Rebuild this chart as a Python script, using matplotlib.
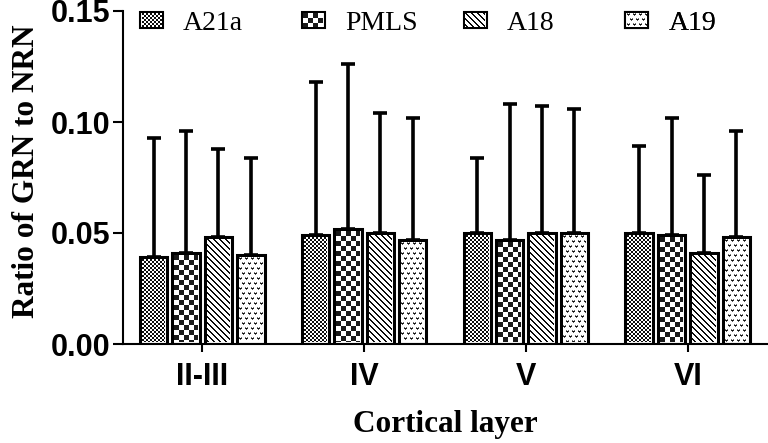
import numpy as np
import matplotlib
matplotlib.use('Agg')
import matplotlib.pyplot as plt
from matplotlib.patches import Patch
from matplotlib.transforms import blended_transform_factory

# ---------------- data ----------------
layers = ['II-III', 'IV', 'V', 'VI']
areas = ['A21a', 'PMLS', 'A18', 'A19']

a21a_mean = [0.039, 0.049, 0.050, 0.050]
a21a_sd = [0.054, 0.069, 0.034, 0.039]
pmls_mean = [0.041, 0.052, 0.047, 0.049]
pmls_sd = [0.055, 0.074, 0.061, 0.053]
a18_mean = [0.048, 0.050, 0.050, 0.041]
a18_sd = [0.040, 0.054, 0.057, 0.035]
a19_mean = [0.040, 0.047, 0.050, 0.048]
a19_sd = [0.044, 0.055, 0.056, 0.048]

y_ticks = [0.00, 0.05, 0.10, 0.15]

means = [a21a_mean, pmls_mean, a18_mean, a19_mean]
sds = [a21a_sd, pmls_sd, a18_sd, a19_sd]


# ---------------- fill patterns (pixel arrays, 0=black 1=white) ----------------
def pat_fine_checker(h, w):
    i, j = np.indices((h, w))
    return np.where(((i // 2) + (j // 2)) % 2 == 0, 0.05, 1.0)


def pat_coarse_checker(h, w):
    i, j = np.indices((h, w))
    return np.where(((i // 5) + (j // 5)) % 2 == 0, 0.1, 1.0)


def pat_diag(h, w):
    i, j = np.indices((h, w))
    return np.where((j - i) % 6 < 2, 0.05, 1.0)


def pat_dots(h, w):
    tile = np.ones((10, 6))
    motif = np.array([[0.45, 1.0, 0.45],
                      [0.15, 0.05, 0.15],
                      [1.0, 0.35, 1.0]])
    tile[0:3, 0:3] = motif
    tile[5:8, 3:6] = motif
    reps = (h // 10 + 2, w // 6 + 2)
    return np.tile(tile, reps)[:h, :w]


patterns = [pat_fine_checker, pat_coarse_checker, pat_diag, pat_dots]

# ---------------- figure ----------------
plt.rcParams['font.family'] = ['Liberation Sans', 'DejaVu Sans']
fig = plt.figure(figsize=(7.68, 4.43), dpi=100)
ax = fig.add_axes([123 / 768, 1 - 344 / 443, 644 / 768, 333 / 443])

x = np.arange(len(layers))
pitch = 0.2
bar_w = 0.17
bar_lw = 2.2
containers = []
for k, (m, s) in enumerate(zip(means, sds)):
    xs = x + (k - 1.5) * pitch
    bc = ax.bar(xs, m, width=bar_w, facecolor='white', edgecolor='black',
                linewidth=bar_lw, zorder=2)
    containers.append(bc)
    ax.errorbar(xs, m, yerr=[np.zeros(len(m)), s], fmt='none', ecolor='black',
                elinewidth=2.6, capsize=5, capthick=2.6, zorder=3)

ax.set_xlim(-0.49, 3.49)
ax.set_ylim(0, 0.15)
ax.set_yticks(y_ticks)
ax.set_yticklabels([f'{v:.2f}' for v in y_ticks])
ax.set_xticks(x)
ax.set_xticklabels(layers)

for side in ['top', 'right']:
    ax.spines[side].set_visible(False)
for side in ['left', 'bottom']:
    ax.spines[side].set_linewidth(1.5)

ax.tick_params(axis='y', direction='out', length=7, width=1.5, pad=2,
               labelsize=22)
ax.tick_params(axis='x', direction='out', length=6, width=1.5, pad=7,
               labelsize=22)
for lab in ax.get_xticklabels() + ax.get_yticklabels():
    lab.set_fontweight('bold')

ax.set_ylabel('Ratio of GRN to NRN', family='Liberation Serif',
              fontweight='bold', fontsize=22.5)
ax.yaxis.set_label_coords(-0.128, 0.52)
ax.set_xlabel('Cortical layer', family='Liberation Serif',
              fontweight='bold', fontsize=22.5)
ax.xaxis.set_label_coords(0.5, -0.197)

# legends: one entry per column, columns aligned to the categories
btrans = blended_transform_factory(ax.transData, fig.transFigure)
legends = []
for k, name in enumerate(areas):
    h = Patch(facecolor='white', edgecolor='black', linewidth=1.5)
    leg = ax.legend([h], [name], loc='upper left',
                    bbox_to_anchor=(k - 0.385, 0.976), bbox_transform=btrans,
                    frameon=False, borderpad=0, borderaxespad=0,
                    handlelength=0.83, handleheight=0.54, handletextpad=0.72,
                    prop={'family': 'Liberation Serif', 'size': 20})
    ax.add_artist(leg)
    legends.append(leg)

fig.canvas.draw()
renderer = fig.canvas.get_renderer()


def fill_patch(patch, func, lw_pt):
    bb = patch.get_window_extent(renderer)
    inset = lw_pt * fig.dpi / 72 / 2
    x0 = int(np.ceil(bb.x0 + inset))
    x1 = int(np.floor(bb.x1 - inset))
    y0 = int(np.ceil(bb.y0 + inset))
    y1 = int(np.floor(bb.y1 - inset))
    w, hh = x1 - x0, y1 - y0
    if w <= 0 or hh <= 0:
        return
    arr = func(hh, w)
    fig.figimage(arr, xo=x0, yo=y0, cmap='gray', vmin=0, vmax=1,
                 origin='upper', zorder=5)


for k, bc in enumerate(containers):
    for bar in bc:
        fill_patch(bar, patterns[k], bar_lw)

for k, leg in enumerate(legends):
    fill_patch(leg.legend_handles[0], patterns[k], 1.5)

fig.savefig('out.png', dpi=100)
